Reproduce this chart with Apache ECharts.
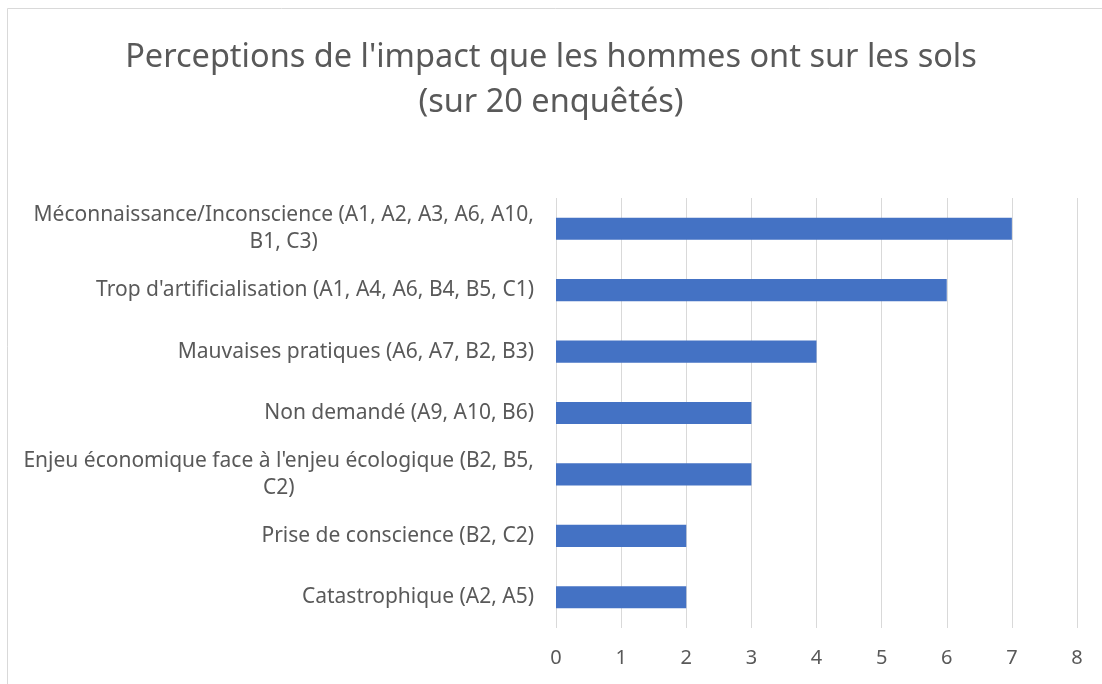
<!DOCTYPE html>
<html>
<head>
<meta charset="utf-8">
<script src="https://cdn.jsdelivr.net/npm/echarts@6/dist/echarts.min.js"></script>
<style>
  html, body { margin: 0; padding: 0; background: #fff; }
  #chart { width: 1102px; height: 684px; }
</style>
</head>
<body>
<div id="chart"></div>
<script>
// données du graphique
var titleLines = ["Perceptions de l'impact que les hommes ont sur les sols", "(sur 20 enquêtés)"];
var categories = [
  "Méconnaissance/Inconscience (A1, A2, A3, A6, A10,\nB1, C3)",
  "Trop d'artificialisation (A1, A4, A6, B4, B5, C1)",
  "Mauvaises pratiques (A6, A7, B2, B3)",
  "Non demandé (A9, A10, B6)",
  "Enjeu économique face à l'enjeu écologique (B2, B5,\nC2)",
  "Prise de conscience (B2, C2)",
  "Catastrophique (A2, A5)"
];
var values = [7, 6, 4, 3, 3, 2, 2];
var xTicks = [0, 1, 2, 3, 4, 5, 6, 7, 8];

var FONT = "Noto Sans";
var chart = echarts.init(document.getElementById('chart'));

var opt = {
  animation: false,
  backgroundColor: '#fff',
  title: {
    text: titleLines.join('\n'),
    left: 'center',
    top: 30,
    textStyle: { fontFamily: FONT, fontSize: 32.5, fontWeight: 'normal', color: '#595959', lineHeight: 45 }
  },
  graphic: [{
    type: 'rect', silent: true,
    shape: { x: 7.5, y: 8.5, width: 1200, height: 800 },
    style: { fill: 'none', stroke: '#d9d9d9', lineWidth: 1 }
  }],
  grid: { left: 556, right: 25, top: 198, bottom: 56 },
  xAxis: {
    type: 'value', min: xTicks[0], max: xTicks[xTicks.length - 1], interval: 1,
    axisLine: { show: false }, axisTick: { show: false },
    axisLabel: { fontFamily: FONT, fontSize: 20, color: '#595959', margin: 20 },
    splitLine: { lineStyle: { color: '#d9d9d9', width: 1 } }
  },
  yAxis: {
    type: 'category', data: categories, inverse: true,
    axisLine: { show: false }, axisTick: { show: false },
    axisLabel: {
      fontFamily: FONT, fontSize: 21, color: '#595959', margin: 22, lineHeight: 27,
      formatter: function (v) { return '{c|' + v.split('\n').join('}\n{c|') + '}'; },
      rich: { c: { align: 'center', fontFamily: FONT, fontSize: 21, color: '#595959', lineHeight: 27 } }
    }
  },
  series: [{
    type: 'bar', data: values, barCategoryGap: '64%',
    itemStyle: { color: '#4472c4' }
  }]
};
chart.setOption(opt);
</script>
</body>
</html>
